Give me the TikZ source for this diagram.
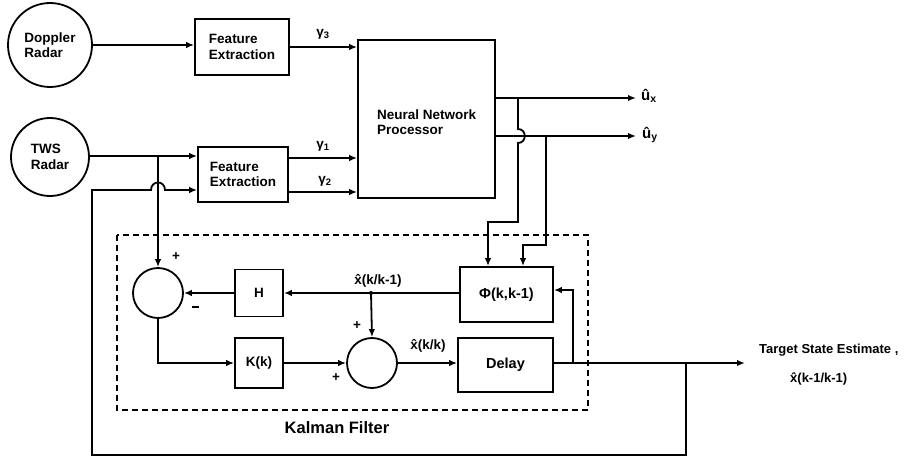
\documentclass[tikz,border=0pt]{standalone}
\usepackage{fontspec}
\setmainfont{Liberation Sans}
\usetikzlibrary{arrows.meta,calc}
\newcommand{\xhat}{x̂}
\begin{document}
\begin{tikzpicture}[x=1pt,y=-1pt,
  every node/.style={font=\fontsize{13.5}{15.5}\selectfont\bfseries},
  blk/.style={draw,line width=1.8pt,inner sep=0pt,align=left},
  ring/.style={draw,circle,line width=1.8pt,inner sep=0pt,align=left},
  sumc/.style={draw,circle,line width=1.8pt,minimum size=50pt,inner sep=0pt},
  conn/.style={line width=1.8pt},
  arr/.style={conn,-{Latex[length=8pt,width=6.5pt]}},
  kbox/.style={draw,line width=1.8pt,dash pattern=on 6pt off 4pt},
  lbl/.style={inner sep=1pt}]
\useasboundingbox (0,0) rectangle (921,460);

% blocks
\node[ring,minimum size=84pt] (doppler) at (50,45) {Doppler\\Radar};
\node[ring,minimum size=78pt] (tws) at (50,157) {TWS\\Radar};
\node[blk,minimum width=94pt,minimum height=56pt] (fe1) at (242,47) {Feature\\Extraction};
\node[blk,minimum width=90pt,minimum height=55pt] (fe2) at (243,174.5) {Feature\\Extraction};
\node[blk,minimum width=137pt,minimum height=158pt] (nn) at (426.5,119) {};
\node[lbl,anchor=west,align=left] (nntext) at (376,122) {Neural Network\\Processor};

\node[sumc] (s1) at (158,293) {};
\node[blk,minimum width=48pt,minimum height=47pt,align=center] (H) at (259,293) {H};
\node[blk,minimum width=93pt,minimum height=55pt,align=center,font=\fontsize{14.5}{16}\selectfont\bfseries] (phi) at (506.5,294.5) {Φ(k,k-1)};
\node[blk,minimum width=48pt,minimum height=50pt,align=center] (K) at (259,363) {K(k)};
\node[sumc] (s2) at (372,363) {};
\node[blk,minimum width=95pt,minimum height=54pt,align=center,font=\fontsize{14.5}{16}\selectfont\bfseries] (delay) at (505.5,365) {Delay};

% Kalman filter frame
\draw[kbox] (117,235) rectangle (588,410);
\node[lbl,font=\fontsize{16.5}{18}\selectfont\bfseries] (kf) at (337,428) {Kalman Filter};

% coordinates
\coordinate (ux) at (636,98);
\coordinate (uy) at (636,136);
\coordinate (tse) at (745,363);
\coordinate (tap) at (158,156);
\coordinate (br) at (371,293);
\coordinate (fbphi) at (573,363);
\coordinate (fbbig) at (686,363);

% top inputs
\draw[arr] (doppler.east) -- (doppler.east -| fe1.west);
\draw[arr] (fe1.east) -- (fe1.east -| nn.west);
\node[lbl] at (323,34) {γ\textsubscript{3}};
\draw[arr] (tws.east |- tap) -- (tap -| fe2.west);
\draw[arr] (fe2.east |- 0,158) -- (nn.west |- 0,158);
\node[lbl] at (323,146) {γ\textsubscript{1}};
\draw[arr] (fe2.east |- 0,192) -- (nn.west |- 0,192);
\node[lbl] at (325,181) {γ\textsubscript{2}};

% NN outputs
\draw[arr] (nn.east |- ux) -- (ux);
\draw[arr] (nn.east |- uy) -- (uy);
\node[lbl,anchor=west,font=\fontsize{15}{16}\selectfont\bfseries] at (640,96) {û\textsubscript{x}};
\node[lbl,anchor=west,font=\fontsize{15}{16}\selectfont\bfseries] at (641,135) {û\textsubscript{y}};

% NN outputs to Phi
\draw[arr] (518,98) -- (518,129) .. controls (527,129) and (527,143) .. (518,143)
  -- (518,222) -- (488,222) -- (488,0 |- phi.north);
\draw[arr] (546,136) -- (546,245) -- (523,245) -- (523,0 |- phi.north);

% tap from TWS to sum1
\draw[arr] (tap) -- (s1.north);
\node[lbl] at (176,257) {+};
\node[lbl] at (195,307) {\rule{7pt}{2pt}};

% H loop
\draw[arr] (phi.west |- br) -- (H.east |- br);
\draw[arr] (H.west) -- (s1.east);
\draw[arr] (br) -- (s2.north);
\fill (br) circle (2pt);
\node[lbl] at (378,281) {\xhat(k/k-1)};
\node[lbl] at (357,326) {+};
\node[lbl] at (336,378) {+};

% lower chain
\draw[arr] (s1.south) |- (K.west);
\draw[arr] (K.east) -- (s2.west);
\draw[arr] (s2.east) -- (s2.east -| delay.west);
\node[lbl] at (428,346) {\xhat(k/k)};
\draw[arr] (delay.east |- tse) -- (tse);
\node[lbl,anchor=west,font=\fontsize{13}{15}\selectfont\bfseries] at (758,350) {Target State Estimate ,};
\node[lbl,anchor=west,font=\fontsize{13}{15}\selectfont\bfseries] at (789,379) {\xhat(k-1/k-1)};

% feedback into Phi
\draw[arr] (fbphi) -- (fbphi |- 0,290) -- (phi.east |- 0,290);

% big feedback loop
\draw[arr] (fbbig) -- (686,455) -- (92,455) -- (92,190) -- (151,190)
  .. controls (151,180) and (165,180) .. (165,190) -- (fe2.west |- 0,190);
\end{tikzpicture}
\end{document}
